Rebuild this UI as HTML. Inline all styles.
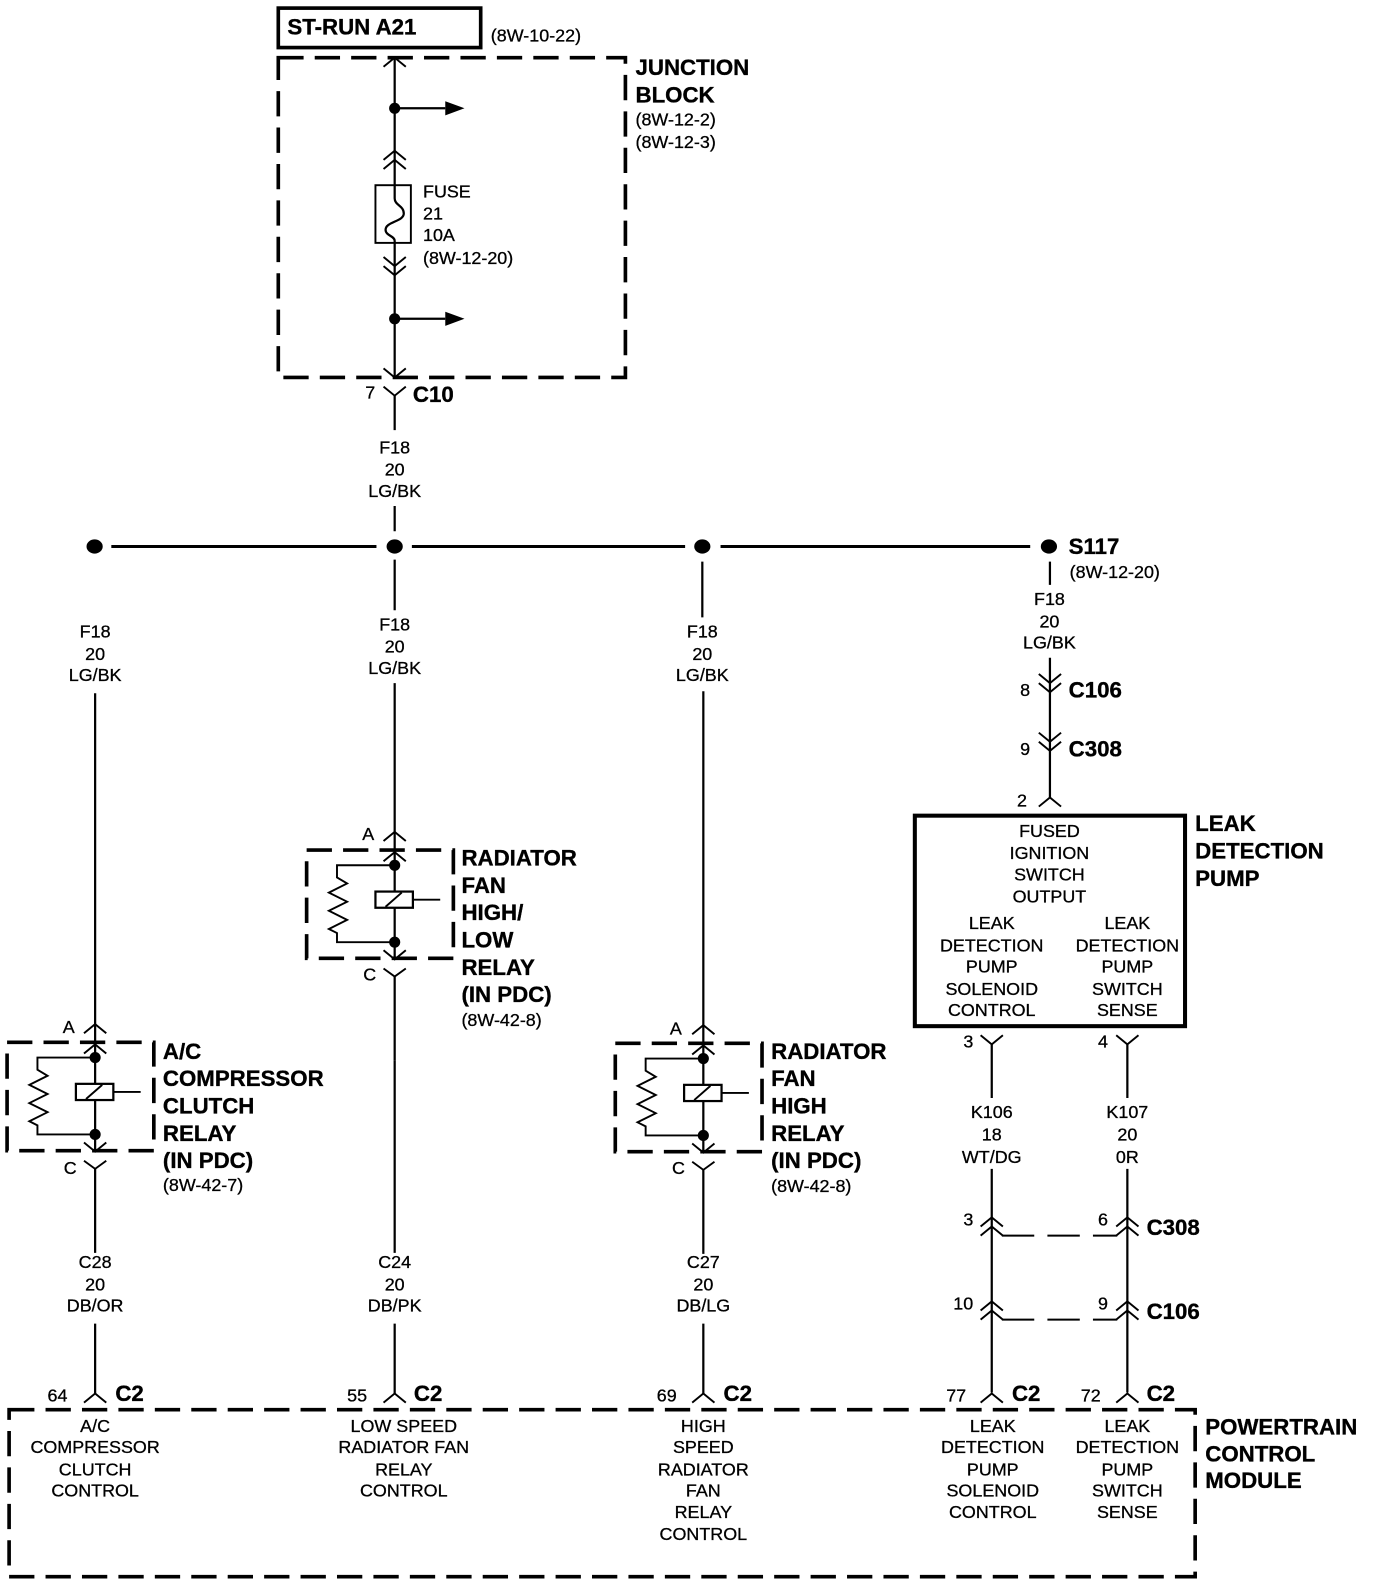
<!DOCTYPE html>
<html><head><meta charset="utf-8"><style>
html,body{margin:0;padding:0;background:#fff}
svg{display:block}
text{font-family:"Liberation Sans",Arial,sans-serif;fill:#000}
.s{font-size:17.7px;stroke:#000;stroke-width:.3}
.b{font-size:22px;font-weight:bold;stroke:#000;stroke-width:.35;transform:translateY(-.7px)}
.m{text-anchor:middle}
.w{stroke:#000;stroke-width:2.2;fill:none}
.d{stroke:#000;stroke-width:3.6;fill:none;stroke-dasharray:25 11}
.t{stroke:#000;stroke-width:1.9;fill:none}
</style></head><body>
<svg xmlns="http://www.w3.org/2000/svg" width="1376" height="1586" viewBox="0 0 1359.7 1567.2">
<rect x="0" y="0" width="1360" height="1568" fill="#fff"/>
<defs>
<g id="relay">
<rect x="7" y="1030" width="145" height="107" class="d"/>
<path class="w" d="M94 1012V1137"/>
<path class="t" d="M83 1021L94 1012L105 1021M83 1041L94 1032L105 1041M83 1129L94 1138L105 1129M83 1147L94 1155L105 1147"/>
<path class="w" d="M94 1155V1238"/>
<circle cx="94" cy="1045" r="5.5"/><circle cx="94" cy="1121" r="5.5"/>
<path class="t" d="M94 1045H37V1057L47 1063L29 1072L47 1081L29 1090L47 1099L29 1108L37 1112V1121H94"/>
<rect x="75" y="1071" width="37" height="16" fill="#fff" stroke="#000" stroke-width="2.2"/>
<path class="t" d="M85 1086L101 1072M112 1079H139"/>
</g>
<g id="up"><path class="t" d="M-11 9L0 0L11 9"/></g>
<g id="dn"><path class="t" d="M-11 -9L0 0L11 -9"/></g>
<g id="yy"><path class="t" d="M-11 -9L0 0L11 -9"/></g>
</defs>

<!-- top -->
<rect x="275" y="8" width="200" height="39" fill="none" stroke="#000" stroke-width="3.6"/>
<text class="b" x="284" y="35">ST-RUN A21</text>
<text class="s" x="485" y="41">(8W-10-22)</text>
<rect x="275" y="57" width="343" height="316" class="d"/>
<text class="b" x="628" y="75">JUNCTION</text>
<text class="b" x="628" y="102">BLOCK</text>
<text class="s" x="628" y="124">(8W-12-2)</text>
<text class="s" x="628" y="146">(8W-12-3)</text>

<path class="w" d="M390 57V196C390 203 399 203 399 211C399 219 381 219 381 227C381 233 390 233 390 238V373"/>
<use href="#up" x="390" y="57"/><use href="#up" x="390" y="149"/><use href="#up" x="390" y="158"/>
<use href="#dn" x="390" y="263"/><use href="#dn" x="390" y="272"/><use href="#dn" x="390" y="373"/>
<rect x="371" y="183" width="35" height="57" class="t"/>
<circle cx="390" cy="107" r="5.5"/><circle cx="390" cy="315" r="5.5"/>
<path class="w" d="M390 107H440M390 315H440"/>
<path d="M440 100L459 107L440 114ZM440 308L459 315L440 322Z"/>
<text class="s" x="418" y="195">FUSE</text>
<text class="s" x="418" y="217">21</text>
<text class="s" x="418" y="238">10A</text>
<text class="s" x="418" y="261">(8W-12-20)</text>

<text class="s" x="361" y="394">7</text>
<use href="#yy" x="390" y="391"/>
<text class="b" x="408" y="398">C10</text>
<path class="w" d="M390 391V425M390 500V525"/>
<text class="s m" x="390" y="448">F18</text>
<text class="s m" x="390" y="470">20</text>
<text class="s m" x="390" y="491">LG/BK</text>

<!-- bus -->
<path stroke="#000" stroke-width="3" fill="none" d="M110 540H372M407 540H677M712 540H1018"/>
<ellipse cx="93.500" cy="540" rx="8" ry="7"/><ellipse cx="390" cy="540" rx="8" ry="7"/>
<ellipse cx="694" cy="540" rx="8" ry="7"/><ellipse cx="1036.500" cy="540" rx="8" ry="7"/>
<text class="b" x="1056" y="548">S117</text>
<text class="s" x="1057" y="571">(8W-12-20)</text>
<path class="w" d="M390 553V603M694 555V610M1037.500 555V578"/>

<!-- left branch -->
<text class="s m" x="94" y="630">F18</text>
<text class="s m" x="94" y="652">20</text>
<text class="s m" x="94" y="673">LG/BK</text>
<path class="w" d="M94 685V1012"/>
<use href="#relay"/>
<text class="s" x="62" y="1021">A</text>
<text class="s" x="63" y="1160">C</text>
<text class="b" x="161" y="1047">A/C</text>
<text class="b" x="161" y="1074">COMPRESSOR</text>
<text class="b" x="161" y="1101">CLUTCH</text>
<text class="b" x="161" y="1128">RELAY</text>
<text class="b" x="161" y="1155">(IN PDC)</text>
<text class="s" x="161" y="1177">(8W-42-7)</text>
<text class="s m" x="94" y="1253">C28</text>
<text class="s m" x="94" y="1275">20</text>
<text class="s m" x="94" y="1296">DB/OR</text>
<path class="w" d="M94 1308V1377"/>

<!-- middle branch -->
<text class="s m" x="390" y="623">F18</text>
<text class="s m" x="390" y="645">20</text>
<text class="s m" x="390" y="666">LG/BK</text>
<path class="w" d="M390 675V822"/>
<use href="#relay" x="296" y="-190"/>
<text class="s" x="358" y="830">A</text>
<text class="s" x="359" y="969">C</text>
<text class="b" x="456" y="856">RADIATOR</text>
<text class="b" x="456" y="883">FAN</text>
<text class="b" x="456" y="910">HIGH/</text>
<text class="b" x="456" y="937">LOW</text>
<text class="b" x="456" y="964">RELAY</text>
<text class="b" x="456" y="991">(IN PDC)</text>
<text class="s" x="456" y="1014">(8W-42-8)</text>
<path class="w" d="M390 1048V1238"/>
<text class="s m" x="390" y="1253">C24</text>
<text class="s m" x="390" y="1275">20</text>
<text class="s m" x="390" y="1296">DB/PK</text>
<path class="w" d="M390 1308V1377"/>

<!-- right relay branch -->
<text class="s m" x="694" y="630">F18</text>
<text class="s m" x="694" y="652">20</text>
<text class="s m" x="694" y="673">LG/BK</text>
<path class="w" d="M695 683V1013"/>
<use href="#relay" x="601" y="1"/>
<text class="s" x="662" y="1022">A</text>
<text class="s" x="664" y="1160">C</text>
<text class="b" x="762" y="1047">RADIATOR</text>
<text class="b" x="762" y="1074">FAN</text>
<text class="b" x="762" y="1101">HIGH</text>
<text class="b" x="762" y="1128">RELAY</text>
<text class="b" x="762" y="1155">(IN PDC)</text>
<text class="s" x="762" y="1178">(8W-42-8)</text>
<text class="s m" x="695" y="1253">C27</text>
<text class="s m" x="695" y="1275">20</text>
<text class="s m" x="695" y="1296">DB/LG</text>
<path class="w" d="M695 1308V1377"/>

<!-- leak branch -->
<text class="s m" x="1037" y="598">F18</text>
<text class="s m" x="1037" y="620">20</text>
<text class="s m" x="1037" y="641">LG/BK</text>
<path class="w" d="M1037.500 650V788"/>
<use href="#dn" x="1037.500" y="675"/><use href="#dn" x="1037.500" y="684"/>
<use href="#dn" x="1037.500" y="733"/><use href="#dn" x="1037.500" y="742"/>
<text class="s" x="1008" y="688">8</text>
<text class="b" x="1056" y="690">C106</text>
<text class="s" x="1008" y="746">9</text>
<text class="b" x="1056" y="748">C308</text>
<text class="s" x="1005" y="797">2</text>
<use href="#up" x="1037.500" y="788"/>
<rect x="904" y="806" width="267" height="208" fill="none" stroke="#000" stroke-width="4"/>
<text class="s m" x="1037" y="827">FUSED</text>
<text class="s m" x="1037" y="849">IGNITION</text>
<text class="s m" x="1037" y="870">SWITCH</text>
<text class="s m" x="1037" y="892">OUTPUT</text>
<text class="s m" x="980" y="918">LEAK</text>
<text class="s m" x="980" y="940">DETECTION</text>
<text class="s m" x="980" y="961">PUMP</text>
<text class="s m" x="980" y="983">SOLENOID</text>
<text class="s m" x="980" y="1004">CONTROL</text>
<text class="s m" x="1114" y="918">LEAK</text>
<text class="s m" x="1114" y="940">DETECTION</text>
<text class="s m" x="1114" y="961">PUMP</text>
<text class="s m" x="1114" y="983">SWITCH</text>
<text class="s m" x="1114" y="1004">SENSE</text>
<text class="b" x="1181" y="822">LEAK</text>
<text class="b" x="1181" y="849">DETECTION</text>
<text class="b" x="1181" y="876">PUMP</text>

<text class="s" x="952" y="1035">3</text>
<text class="s" x="1085" y="1035">4</text>
<use href="#yy" x="980" y="1032"/><use href="#yy" x="1114" y="1032"/>
<path class="w" d="M980 1032V1085M1114 1032V1085M980 1155V1376M1114 1155V1376"/>
<text class="s m" x="980" y="1105">K106</text>
<text class="s m" x="980" y="1127">18</text>
<text class="s m" x="980" y="1149">WT/DG</text>
<text class="s m" x="1114" y="1105">K107</text>
<text class="s m" x="1114" y="1127">20</text>
<text class="s m" x="1114" y="1149">0R</text>

<use href="#up" x="980" y="1203"/><use href="#up" x="980" y="1212"/>
<use href="#up" x="1114" y="1203"/><use href="#up" x="1114" y="1212"/>
<use href="#up" x="980" y="1286"/><use href="#up" x="980" y="1295"/>
<use href="#up" x="1114" y="1286"/><use href="#up" x="1114" y="1295"/>
<path stroke="#000" stroke-width="2" fill="none" stroke-dasharray="32 13" d="M990 1221H1104M990 1304H1104"/>
<text class="s" x="952" y="1211">3</text>
<text class="s" x="1085" y="1211">6</text>
<text class="s" x="942" y="1294">10</text>
<text class="s" x="1085" y="1294">9</text>
<text class="b" x="1133" y="1221">C308</text>
<text class="b" x="1133" y="1304">C106</text>

<!-- PCM -->
<use href="#up" x="94" y="1377"/><use href="#up" x="390" y="1377"/><use href="#up" x="695" y="1377"/>
<use href="#up" x="980" y="1377"/><use href="#up" x="1114" y="1377"/>
<text class="s" x="47" y="1385">64</text>
<text class="s" x="343" y="1385">55</text>
<text class="s" x="649" y="1385">69</text>
<text class="s" x="935" y="1385">77</text>
<text class="s" x="1068" y="1385">72</text>
<text class="b" x="114" y="1385">C2</text>
<text class="b" x="409" y="1385">C2</text>
<text class="b" x="715" y="1385">C2</text>
<text class="b" x="1000" y="1385">C2</text>
<text class="b" x="1133" y="1385">C2</text>
<rect x="9" y="1393" width="1172" height="165" class="d"/>
<text class="s m" x="94" y="1415">A/C</text>
<text class="s m" x="94" y="1436">COMPRESSOR</text>
<text class="s m" x="94" y="1458">CLUTCH</text>
<text class="s m" x="94" y="1479">CONTROL</text>
<text class="s m" x="399" y="1415">LOW SPEED</text>
<text class="s m" x="399" y="1436">RADIATOR FAN</text>
<text class="s m" x="399" y="1458">RELAY</text>
<text class="s m" x="399" y="1479">CONTROL</text>
<text class="s m" x="695" y="1415">HIGH</text>
<text class="s m" x="695" y="1436">SPEED</text>
<text class="s m" x="695" y="1458">RADIATOR</text>
<text class="s m" x="695" y="1479">FAN</text>
<text class="s m" x="695" y="1500">RELAY</text>
<text class="s m" x="695" y="1522">CONTROL</text>
<text class="s m" x="981" y="1415">LEAK</text>
<text class="s m" x="981" y="1436">DETECTION</text>
<text class="s m" x="981" y="1458">PUMP</text>
<text class="s m" x="981" y="1479">SOLENOID</text>
<text class="s m" x="981" y="1500">CONTROL</text>
<text class="s m" x="1114" y="1415">LEAK</text>
<text class="s m" x="1114" y="1436">DETECTION</text>
<text class="s m" x="1114" y="1458">PUMP</text>
<text class="s m" x="1114" y="1479">SWITCH</text>
<text class="s m" x="1114" y="1500">SENSE</text>
<text class="b" x="1191" y="1418">POWERTRAIN</text>
<text class="b" x="1191" y="1445">CONTROL</text>
<text class="b" x="1191" y="1471">MODULE</text>
</svg>
</body></html>
